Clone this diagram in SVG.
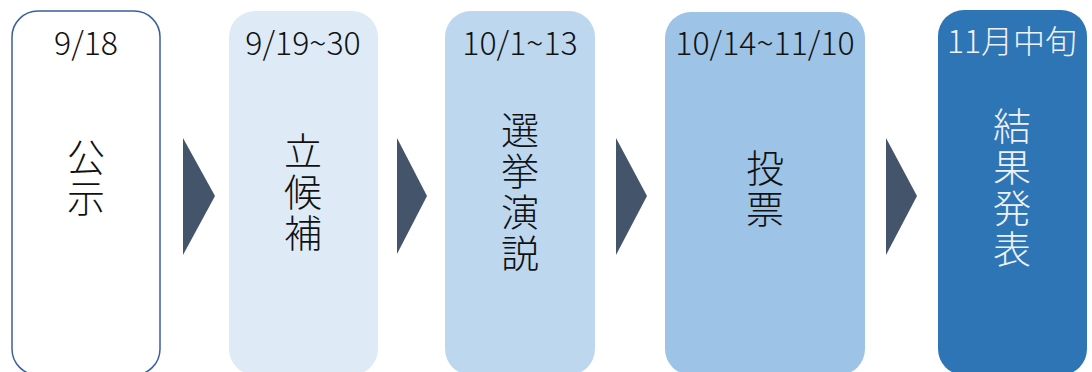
<svg xmlns="http://www.w3.org/2000/svg" width="1092" height="372" viewBox="0 0 1092 372">
<style>
.date{font-family:"Noto Sans CJK JP","Noto Sans",sans-serif;font-weight:300;font-size:32px;text-anchor:middle;fill:#111}
.main{font-family:"Noto Sans CJK JP",sans-serif;font-weight:300;font-size:38px;text-anchor:middle;fill:#111;writing-mode:vertical-rl;letter-spacing:3px}
.light{fill:#EEF2F8}
.arrow{fill:#44546A}
</style>
<rect width="1092" height="372" fill="#fff"/>
<g id="node1">
<rect x="12" y="11" width="148" height="364" rx="26" fill="#fff" stroke="#3A5FA0" stroke-width="1.5"/>
<text class="date" x="86" y="55">9/18</text>
<text class="main" x="86" y="179">公示</text>
</g>
<g id="node2">
<rect x="229" y="11" width="149" height="364" rx="26" fill="#DEEBF7"/>
<text class="date" x="303" y="55">9/19~30</text>
<text class="main" x="303" y="193">立候補</text>
</g>
<g id="node3">
<rect x="445" y="11" width="150" height="364" rx="26" fill="#BDD7EE"/>
<text class="date" x="520" y="55">10/1~13</text>
<text class="main" x="520" y="193">選挙演説</text>
</g>
<g id="node4">
<rect x="665" y="12" width="200" height="363" rx="26" fill="#9DC3E6"/>
<text class="date" x="765" y="55">10/14~11/10</text>
<text class="main" x="765" y="190">投票</text>
</g>
<g id="node5">
<rect x="938" y="10" width="149" height="365" rx="26" fill="#2E75B6"/>
<text class="date light" x="1012" y="53">11月中旬</text>
<text class="main light" x="1012" y="189">結果発表</text>
</g>
<g id="connectors">
<polygon class="arrow" points="183,138 215,196 183,255"/>
<polygon class="arrow" points="397,138 427,196 397,254"/>
<polygon class="arrow" points="616,138 647,196 616,255"/>
<polygon class="arrow" points="886,138 917,196 886,255"/>
</g>
</svg>
